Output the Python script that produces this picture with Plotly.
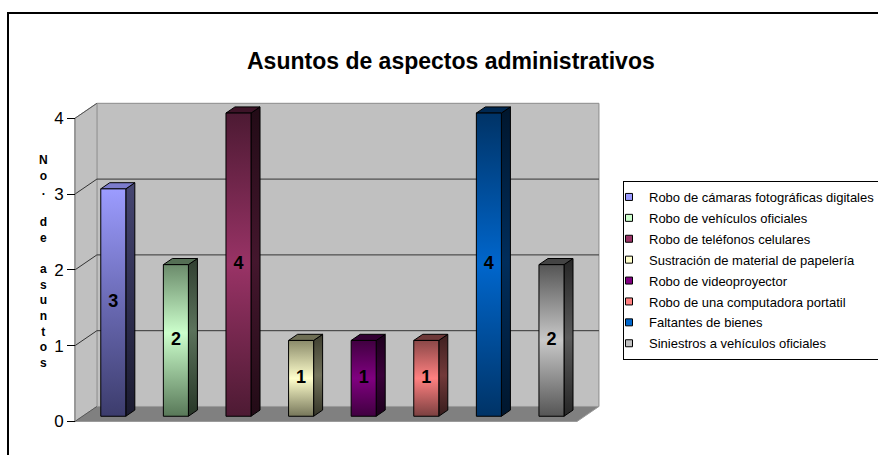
import plotly.graph_objects as go

# ---------------- data ----------------
categories = [
    "Robo de cámaras fotográficas digitales",
    "Robo de vehículos oficiales",
    "Robo de teléfonos celulares",
    "Sustración de material de papelería",
    "Robo de videoproyector",
    "Robo de una computadora portatil",
    "Faltantes de bienes",
    "Siniestros a vehículos oficiales",
]
values = [3, 2, 4, 1, 1, 1, 4, 2]
y_ticks = [0, 1, 2, 3, 4]
title_text = "Asuntos de aspectos administrativos"
y_title = "No. de asuntos"

# ---------------- styles ----------------
legend_colors = ["#9999ff", "#ccffcc", "#993366", "#ffffcc",
                 "#800080", "#ff8080", "#0066cc", "#c0c0c0"]
# vertical gradient stops, bottom -> top
front_scales = [
    [[0, "#3c3c6c"], [0.5, "#6a6ab4"], [1, "#9c9cff"]],
    [[0, "#587858"], [0.55, "#ccffcc"], [1, "#6b8b6b"]],
    [[0, "#4d1a33"], [0.5, "#993366"], [1, "#4d1a33"]],
    [[0, "#76765a"], [0.5, "#ffffcc"], [1, "#8a8a6a"]],
    [[0, "#400040"], [0.5, "#800080"], [1, "#400040"]],
    [[0, "#7a4040"], [0.5, "#ff8080"], [1, "#8a4848"]],
    [[0, "#003366"], [0.5, "#0066cc"], [1, "#003366"]],
    [[0, "#555555"], [0.5, "#c8c8c8"], [1, "#555555"]],
]
FONT = "Arial, Liberation Sans, sans-serif"
W, H = 878, 455

# geometry in axis units
XL, XR = -0.49, 7.53        # front edge of floor
DX, DY = 0.351, 0.198       # full depth offset
F0, F1 = 0.35, 0.76         # bar depth span
HW = 0.2                    # bar half-width
X_RANGE = [-1.687, 12.339]
Y_RANGE = [-0.442, 5.561]
YMAX = y_ticks[-1]


def shade(hexcol, k):
    h = hexcol.lstrip("#")
    r, g, b = (int(h[i:i + 2], 16) for i in (0, 2, 4))
    return "#%02x%02x%02x" % (int(r * k), int(g * k), int(b * k))


def poly(xs, ys, fill, line="#000000", lw=1, **kw):
    return go.Scatter(x=xs + [xs[0]], y=ys + [ys[0]], mode="lines", fill="toself",
                      fillcolor=fill, line=dict(color=line, width=lw),
                      showlegend=False, hoverinfo="skip", **kw)


fig = go.Figure()

# back wall
fig.add_trace(poly([XL + DX, XR + DX, XR + DX, XL + DX],
                   [DY, DY, YMAX + DY, YMAX + DY], "#c0c0c0", line="#8a8a8a"))
# left wall
fig.add_trace(poly([XL, XL + DX, XL + DX, XL],
                   [0, DY, YMAX + DY, YMAX], "#c0c0c0", line="#9a9a9a"))
# floor
fig.add_trace(poly([XL, XR, XR + DX, XL + DX],
                   [0, 0, DY, DY], "#808080", line="#9a9a9a"))

# gridlines on back wall and left wall
for v in y_ticks[1:-1]:
    fig.add_trace(go.Scatter(x=[XL, XL + DX, XR + DX], y=[v, v + DY, v + DY],
                             mode="lines", line=dict(color="#333333", width=1),
                             showlegend=False, hoverinfo="skip"))
fig.add_trace(go.Scatter(x=[XL, XL + DX], y=[YMAX, YMAX + DY], mode="lines",
                         line=dict(color="#555555", width=1),
                         showlegend=False, hoverinfo="skip"))
fig.add_trace(go.Scatter(x=[XL, XL + DX], y=[0, DY], mode="lines",
                         line=dict(color="#555555", width=1),
                         showlegend=False, hoverinfo="skip"))
# front axis line
fig.add_trace(go.Scatter(x=[XL, XL], y=[0, YMAX], mode="lines",
                         line=dict(color="#7a7a7a", width=1),
                         showlegend=False, hoverinfo="skip"))

# bars
for i, (cat, val) in enumerate(zip(categories, values)):
    xa = i - HW + F0 * DX
    xb = i + HW + F0 * DX
    xc = i + HW + F1 * DX
    xd = i - HW + F1 * DX
    y0 = F0 * DY
    y1 = F1 * DY
    sc = front_scales[i]
    side_sc = [[s, shade(c, 0.45)] for s, c in sc]
    # side face
    fig.add_trace(go.Scatter(x=[xb, xc, xc, xb, xb], y=[y0, y1, val + y1, val + y0, y0],
                             mode="lines", fill="toself",
                             fillgradient=dict(type="vertical", colorscale=side_sc),
                             line=dict(color="#000000", width=1),
                             showlegend=False, hoverinfo="skip"))
    # top face
    fig.add_trace(poly([xa, xb, xc, xd], [val + y0, val + y0, val + y1, val + y1],
                       shade(sc[-1][1], 0.8)))
    # front face
    fig.add_trace(go.Scatter(x=[xa, xb, xb, xa, xa], y=[y0, y0, val + y0, val + y0, y0],
                             mode="lines", fill="toself",
                             fillgradient=dict(type="vertical", colorscale=sc),
                             line=dict(color="#000000", width=1),
                             name=cat, showlegend=False, hoverinfo="skip"))

# data labels
fig.add_trace(go.Scatter(
    x=[i + F0 * DX for i in range(len(values))],
    y=[v / 2 + F0 * DY for v in values],
    text=[str(v) for v in values], mode="text",
    textfont=dict(family=FONT, size=18, color="#000000", weight="bold"),
    showlegend=False, hoverinfo="skip"))

# legend entries
for i, cat in enumerate(categories):
    fig.add_trace(go.Scatter(
        x=[None], y=[None], mode="markers", name=cat, legendgroup="g%d" % i,
        marker=dict(symbol="square", size=7, color=legend_colors[i],
                    line=dict(color="#000000", width=1))))

fig.update_layout(
    width=W, height=H,
    margin=dict(l=0, r=0, t=0, b=0, autoexpand=False),
    paper_bgcolor="white", plot_bgcolor="white",
    xaxis=dict(range=X_RANGE, domain=[0, 1], visible=False, fixedrange=True),
    yaxis=dict(range=Y_RANGE, domain=[0, 1], anchor="free", position=75 / W,
               tickvals=y_ticks, ticks="outside", ticklen=8, tickcolor="#000000",
               showgrid=False, zeroline=False, showline=False,
               tickfont=dict(family=FONT, size=17, color="#000000"), fixedrange=True),
    showlegend=True,
    legend=dict(x=623 / W, xanchor="left", y=1 - 181 / H, yanchor="top",
                bgcolor="white", bordercolor="#000000", borderwidth=1,
                font=dict(family=FONT, size=13, color="#000000"),
                tracegroupgap=1, indentation=-15, traceorder="grouped"),
    annotations=[
        dict(text="<b>%s</b>" % title_text, x=451 / W, y=1 - 46 / H,
             xref="paper", yref="paper", showarrow=False,
             font=dict(family=FONT, size=23, color="#000000")),
        dict(text="<br>".join(ch if ch != " " else "\u00a0" for ch in y_title),
             x=37 / W, y=1 - 261 / H, xref="paper", yref="paper", showarrow=False,
             font=dict(family=FONT, size=12, color="#000000", weight="bold")),
    ],
    shapes=[dict(type="rect", xref="paper", yref="paper",
                 x0=8 / W, x1=1.05, y0=-0.05, y1=1 - 13 / H,
                 line=dict(color="#000000", width=2), layer="above")],
)

fig.write_html("out.html")
